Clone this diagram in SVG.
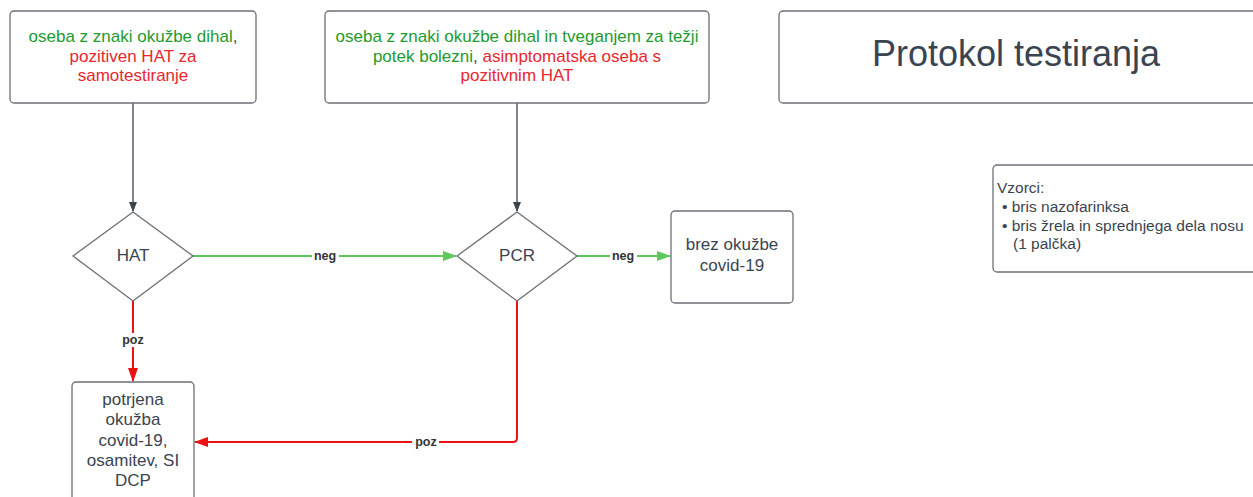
<svg xmlns="http://www.w3.org/2000/svg" width="1253" height="497" viewBox="0 0 1253 497">
<style>
.box{fill:#fff;stroke:#6b7077;stroke-width:1.3}
.t{font-family:"Liberation Sans",Arial,sans-serif;font-size:17px;text-anchor:middle;fill:#3a4450}
.g{fill:#1e9a2e}
.r{fill:#e8262f}
.v{text-anchor:start;font-size:15.5px}
.lbl{font-family:"Liberation Sans",Arial,sans-serif;font-size:12.5px;font-weight:bold;text-anchor:middle;fill:#333}
.lb{fill:#fff}
.dark{stroke:#3a4450;stroke-width:1.3;fill:none}
.grn{stroke:#5cc85c;stroke-width:2;fill:none}
.red{stroke:#e11;stroke-width:2;fill:none}
</style>
<defs>
<marker id="ad" markerWidth="10" markerHeight="10" refX="9" refY="5" orient="auto" markerUnits="userSpaceOnUse"><path d="M0,1 L10,5 L0,9 Z" fill="#3a4450"/></marker>
<marker id="ag" markerWidth="14" markerHeight="10" refX="13" refY="5" orient="auto" markerUnits="userSpaceOnUse"><path d="M0,0 L14,5 L0,10 Z" fill="#5cc85c"/></marker>
<marker id="ar" markerWidth="14" markerHeight="10" refX="13" refY="5" orient="auto" markerUnits="userSpaceOnUse"><path d="M0,0 L14,5 L0,10 Z" fill="#e11"/></marker>
</defs>
<rect width="1253" height="497" fill="#fff"/>
<g id="connectors">
<line class="dark" x1="133" y1="103" x2="133" y2="211" marker-end="url(#ad)"/>
<line class="dark" x1="517" y1="103" x2="517" y2="211" marker-end="url(#ad)"/>
<line class="grn" x1="193" y1="256" x2="456" y2="256" marker-end="url(#ag)"/>
<rect class="lb" x="312" y="249" width="27" height="14"/>
<text class="lbl" x="325" y="260">neg</text>
<line class="grn" x1="577" y1="256" x2="670" y2="256" marker-end="url(#ag)"/>
<rect class="lb" x="610" y="249" width="27" height="14"/>
<text class="lbl" x="623" y="260">neg</text>
<line class="red" x1="133" y1="301" x2="133" y2="381" marker-end="url(#ar)"/>
<rect class="lb" x="120" y="333" width="27" height="14"/>
<text class="lbl" x="133" y="344">poz</text>
<path class="red" d="M517,301 V438 Q517,442 513,442 H195" marker-end="url(#ar)"/>
<rect class="lb" x="412" y="435" width="27" height="14"/>
<text class="lbl" x="426" y="446">poz</text>
</g>
<g id="n1">
<rect class="box" x="10" y="11" width="246" height="92" rx="4"/>
<text class="t" x="133" y="42"><tspan class="g">oseba z znaki okužbe dihal</tspan>,</text>
<text class="t r" x="133" y="62">pozitiven HAT za</text>
<text class="t r" x="133" y="81">samotestiranje</text>
</g>
<g id="n2">
<rect class="box" x="325" y="11" width="384" height="92" rx="4"/>
<text class="t g" x="517" y="42">oseba z znaki okužbe dihal in tveganjem za težji</text>
<text class="t" x="517" y="62"><tspan class="g">potek bolezni</tspan>, <tspan class="r">asimptomatska oseba s</tspan></text>
<text class="t r" x="517" y="81">pozitivnim HAT</text>
</g>
<g id="title">
<rect class="box" x="779" y="11" width="480" height="92" rx="4"/>
<text class="t" x="1016" y="66" style="font-size:36px">Protokol testiranja</text>
</g>
<g id="hat">
<path class="box" d="M133,212 L193,256 L133,301 L73,256 Z"/>
<text class="t" x="133" y="261">HAT</text>
</g>
<g id="pcr">
<path class="box" d="M517,212 L577,256 L517,301 L457,256 Z"/>
<text class="t" x="517" y="261">PCR</text>
</g>
<g id="brez">
<rect class="box" x="671" y="211" width="122" height="92" rx="4"/>
<text class="t" x="732" y="250">brez okužbe</text>
<text class="t" x="732" y="271">covid-19</text>
</g>
<g id="vzorci">
<rect class="box" x="993" y="165" width="266" height="107" rx="4"/>
<text class="t v" x="997" y="193">Vzorci:</text>
<text class="t v" x="1002" y="212">• bris nazofarinksa</text>
<text class="t v" x="1002" y="231">• bris žrela in sprednjega dela nosu</text>
<text class="t v" x="1013" y="249">(1 palčka)</text>
</g>
<g id="potrjena">
<rect class="box" x="72" y="382" width="122" height="130" rx="4"/>
<text class="t" x="133" y="405">potrjena</text>
<text class="t" x="133" y="425">okužba</text>
<text class="t" x="133" y="446">covid-19,</text>
<text class="t" x="133" y="466">osamitev, SI</text>
<text class="t" x="133" y="486">DCP</text>
</g>
</svg>
